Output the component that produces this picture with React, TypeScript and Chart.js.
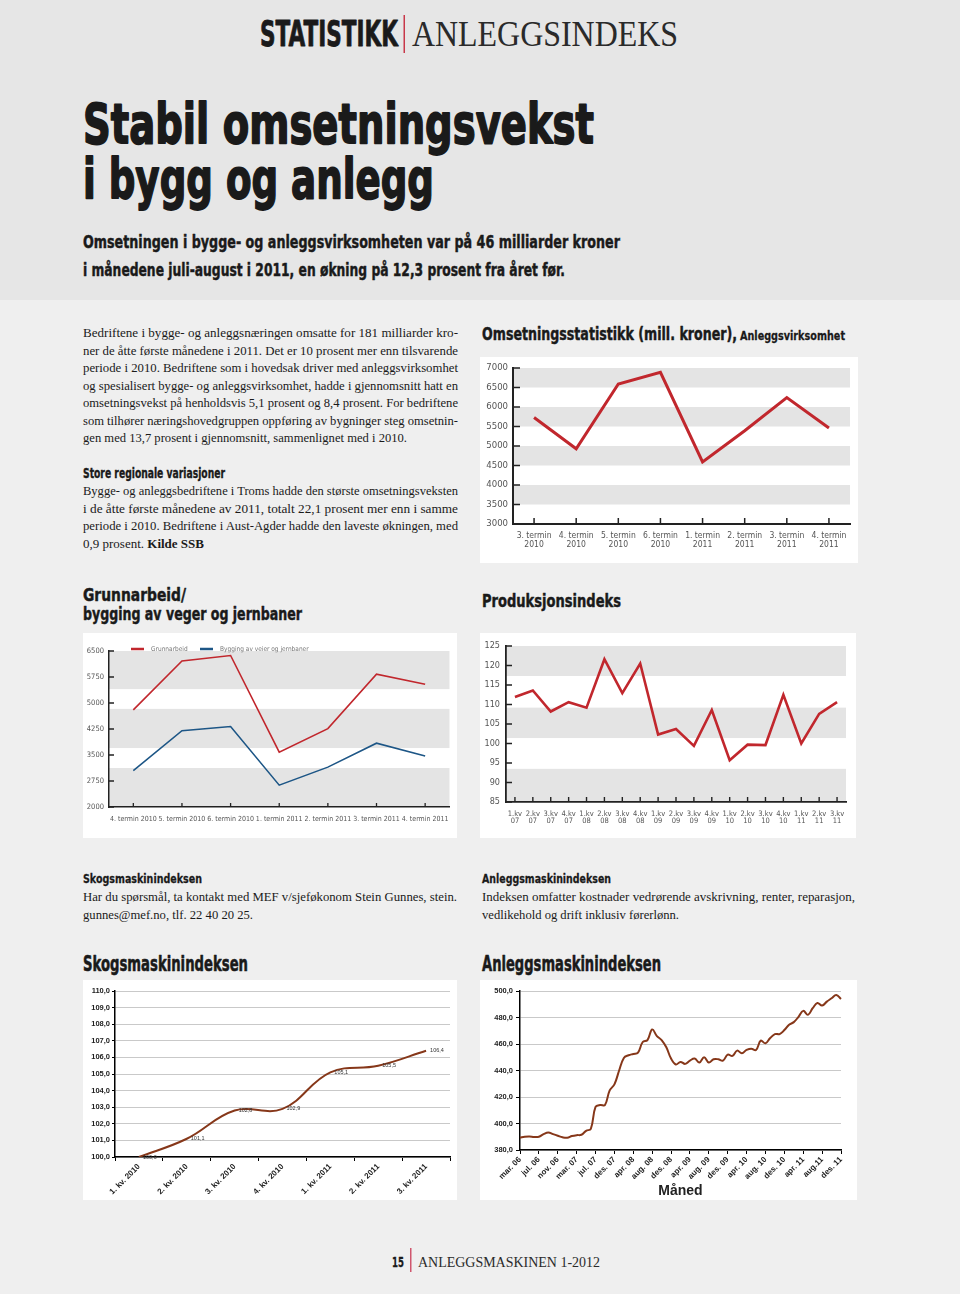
import React, { useEffect, useRef } from 'react';
import { Chart, registerables } from 'chart.js';

Chart.register(...registerables);

// ---------- DATA ----------
// Omsetningsstatistikk (mill. kroner), Anleggsvirksomhet
const omsLabels = [
  ['3. termin', '2010'], ['4. termin', '2010'], ['5. termin', '2010'], ['6. termin', '2010'],
  ['1. termin', '2011'], ['2. termin', '2011'], ['3. termin', '2011'], ['4. termin', '2011'],
];
const omsValues = [5730, 4930, 6590, 6890, 4590, 5390, 6240, 5460];
const omsBands = [[6500, 7000], [5500, 6000], [4500, 5000], [3500, 4000]];

// Grunnarbeid / bygging av veger og jernbaner
const grunnLabels = ['4. termin 2010', '5. termin 2010', '6. termin 2010', '1. termin 2011', '2. termin 2011', '3. termin 2011', '4. termin 2011'];
const grunnarbeidValues = [4800, 6210, 6370, 3580, 4260, 5830, 5540];
const veierValues = [3050, 4200, 4320, 2630, 3150, 3840, 3470];
const grunnBands = [[5400, 6500], [3700, 4830], [2000, 3125]];

// Produksjonsindeks
const prodLabels = [
  ['1.kv', '07'], ['2.kv', '07'], ['3.kv', '07'], ['4.kv', '07'],
  ['1.kv', '08'], ['2.kv', '08'], ['3.kv', '08'], ['4.kv', '08'],
  ['1.kv', '09'], ['2.kv', '09'], ['3.kv', '09'], ['4.kv', '09'],
  ['1.kv', '10'], ['2.kv', '10'], ['3.kv', '10'], ['4.kv', '10'],
  ['1.kv', '11'], ['2.kv', '11'], ['3.kv', '11'],
];
const prodValues = [111.9, 113.6, 108.2, 110.6, 109.2, 121.6, 112.9, 120.5, 102.3, 103.7, 99.4, 108.6, 95.7, 99.7, 99.6, 112.5, 100.0, 107.6, 110.6];
const prodBands = [[117.3, 125], [101.4, 109.2], [85, 93.5]];

// Skogsmaskinindeksen
const skogLabels = ['1. kv. 2010', '2. kv. 2010', '3. kv. 2010', '4. kv. 2010', '1. kv. 2011', '2. kv. 2011', '3. kv. 2011'];
const skogValues = [100.0, 101.1, 102.8, 102.9, 105.1, 105.5, 106.4];

// Anleggsmaskinindeksen (månedlig)
const anleggLabels = [
  'mar. 06', 'apr. 06', 'mai. 06', 'jun. 06', 'jul. 06', 'aug. 06', 'sep. 06', 'okt. 06', 'nov. 06', 'des. 06',
  'jan. 07', 'feb. 07', 'mar. 07', 'apr. 07', 'mai. 07', 'jun. 07', 'jul. 07', 'aug. 07', 'sep. 07', 'okt. 07', 'des. 07',
  'jan. 08', 'feb. 08', 'mar. 08', 'apr. 08', 'mai. 08', 'jun. 08', 'jul. 08', 'aug. 08', 'sep. 08', 'okt. 08', 'nov. 08', 'des. 08',
  'jan. 09', 'feb. 09', 'mar. 09', 'apr. 09', 'mai. 09', 'jun. 09', 'jul. 09', 'aug. 09', 'sep. 09', 'okt. 09', 'nov. 09', 'des. 09',
  'jan. 10', 'feb. 10', 'mar. 10', 'apr. 10', 'mai. 10', 'jun. 10', 'jul. 10', 'aug. 10', 'sep. 10', 'okt. 10', 'nov. 10', 'des. 10',
  'jan. 11', 'feb. 11', 'mar. 11', 'apr. 11', 'mai. 11', 'jun. 11', 'jul. 11', 'aug.11', 'sep. 11', 'okt. 11', 'nov. 11', 'des. 11',
];
const anleggValues = [
  389.3, 390.0, 390.2, 389.8, 390.0, 392.0, 393.2, 392.0, 390.8, 389.6,
  389.2, 390.5, 391.2, 391.5, 394.5, 396.0, 412.5, 414.0, 414.0, 425.0, 429.5,
  440.0, 449.5, 451.5, 452.5, 453.5, 461.5, 463.0, 471.0, 466.0, 463.0, 457.5, 449.0,
  444.5, 446.5, 445.0, 447.5, 449.0, 446.0, 450.0, 446.0, 448.5, 448.5, 447.5, 452.0,
  451.0, 455.0, 453.0, 455.5, 456.5, 455.5, 462.5, 460.5, 464.5, 467.5, 467.5, 470.5,
  474.5, 476.5, 480.5, 485.0, 482.0, 487.0, 491.0, 489.0, 492.0, 494.5, 497.0, 494.0,
];

// ---------- STYLE ----------
const RED = '#c1272d';
const BLUE = '#1d5686';
const BROWN = '#863719';
const BAND = '#e4e4e4';
const HEAVY = "'DejaVu Sans', 'Liberation Sans', sans-serif";
const SERIF = "'Liberation Serif', 'Times New Roman', serif";
const NARROW = "'Liberation Sans Narrow', 'DejaVu Sans Condensed', 'Open Sans', sans-serif";
const ARIAL = "'Liberation Sans', Arial, sans-serif";
const INK = '#1a1a1a';

const fmtComma = (v: number) => v.toFixed(1).replace('.', ',');
const plain = (v: any) => String(v);

// ---------- PLUGINS ----------
const bandsPlugin = {
  id: 'bands',
  beforeDraw(chart: any, _a: any, opts: any) {
    if (!opts || !opts.ranges) return;
    const { ctx, chartArea, scales } = chart;
    const y = scales.y;
    ctx.save();
    ctx.fillStyle = opts.color;
    for (const [a, b] of opts.ranges) {
      const y1 = y.getPixelForValue(b);
      const y2 = y.getPixelForValue(a);
      ctx.fillRect(chartArea.left, y1, chartArea.right - chartArea.left, y2 - y1);
    }
    ctx.restore();
  },
};

const innerTicksPlugin = {
  id: 'innerTicks',
  afterDraw(chart: any, _a: any, opts: any) {
    if (!opts || !opts.x) return;
    const { ctx, chartArea, scales } = chart;
    ctx.save();
    ctx.strokeStyle = opts.color;
    ctx.lineWidth = opts.width;
    ctx.beginPath();
    scales.y.ticks.forEach((_t: any, i: number) => {
      const py = scales.y.getPixelForTick(i);
      ctx.moveTo(chartArea.left, py);
      ctx.lineTo(chartArea.left + opts.y, py);
    });
    scales.x.ticks.forEach((_t: any, i: number) => {
      const px = scales.x.getPixelForTick(i);
      ctx.moveTo(px, chartArea.bottom);
      ctx.lineTo(px, chartArea.bottom - opts.x);
    });
    ctx.stroke();
    ctx.restore();
  },
};

const lineLegendPlugin = {
  id: 'lineLegend',
  afterDraw(chart: any, _a: any, opts: any) {
    if (!opts || !opts.font) return;
    const { ctx, chartArea } = chart;
    ctx.save();
    ctx.font = opts.font;
    ctx.textBaseline = 'middle';
    let x = chartArea.left + opts.offsetX;
    const y = chartArea.top + opts.offsetY;
    chart.data.datasets.forEach((ds: any) => {
      ctx.strokeStyle = ds.borderColor;
      ctx.lineWidth = 2.5;
      ctx.beginPath();
      ctx.moveTo(x, y);
      ctx.lineTo(x + opts.swatch, y);
      ctx.stroke();
      ctx.fillStyle = opts.color;
      ctx.fillText(ds.label, x + opts.swatch + opts.gap, y);
      x += opts.step;
    });
    ctx.restore();
  },
};

const valueLabelsPlugin = {
  id: 'valueLabels',
  afterDatasetsDraw(chart: any, _a: any, opts: any) {
    if (!opts || !opts.font) return;
    const { ctx } = chart;
    const meta = chart.getDatasetMeta(0);
    const data = chart.data.datasets[0].data;
    ctx.save();
    ctx.font = opts.font;
    ctx.fillStyle = opts.color;
    ctx.textBaseline = 'middle';
    meta.data.forEach((pt: any, i: number) => {
      ctx.fillText(fmtComma(data[i]), pt.x + opts.dx, pt.y + opts.dy);
    });
    ctx.restore();
  },
};

const baseOptions = (pad: any) => ({
  responsive: false,
  animation: false,
  devicePixelRatio: 1,
  layout: { padding: pad },
  events: [],
  elements: { point: { radius: 0 }, line: { borderJoinStyle: 'miter' } },
});

const noGrid = { display: false, drawTicks: false, tickLength: 0 };

// ---------- CHART CONFIGS ----------
function omsConfig() {
  const tickFont = { family: NARROW, size: 9.5 };
  return {
    type: 'line',
    data: {
      labels: omsLabels,
      datasets: [{ data: omsValues, borderColor: RED, borderWidth: 3, tension: 0, pointRadius: 0 }],
    },
    options: {
      ...baseOptions({ left: 0, top: 11, right: 8, bottom: 0 }),
      plugins: {
        legend: { display: false },
        tooltip: { enabled: false },
        bands: { ranges: omsBands, color: BAND },
        innerTicks: { x: 6, y: 7, width: 1.5, color: '#222' },
      },
      scales: {
        x: {
          offset: true,
          grid: noGrid,
          border: { display: true, color: '#222', width: 2 },
          ticks: { font: { ...tickFont, size: 8.5, lineHeight: 1.1 }, color: '#555', padding: 7, maxRotation: 0, autoSkip: false },
          afterFit: (s: any) => { s.height = 39; },
        },
        y: {
          min: 3000, max: 7000,
          grid: noGrid,
          border: { display: true, color: '#222', width: 2 },
          ticks: { stepSize: 500, font: tickFont, color: '#555', padding: 5, callback: plain },
          afterFit: (s: any) => { s.width = 33; },
        },
      },
    },
    plugins: [bandsPlugin, innerTicksPlugin],
  };
}

function grunnConfig() {
  const tickFont = { family: NARROW, size: 7.5 };
  return {
    type: 'line',
    data: {
      labels: grunnLabels,
      datasets: [
        { label: 'Grunnarbeid', data: grunnarbeidValues, borderColor: RED, borderWidth: 1.6, tension: 0, pointRadius: 0 },
        { label: 'Bygging av veier og jernbaner', data: veierValues, borderColor: BLUE, borderWidth: 1.6, tension: 0, pointRadius: 0 },
      ],
    },
    options: {
      ...baseOptions({ left: 0, top: 18, right: 7, bottom: 0 }),
      plugins: {
        legend: { display: false },
        tooltip: { enabled: false },
        bands: { ranges: grunnBands, color: BAND },
        innerTicks: { x: 4, y: 5, width: 1.3, color: '#222' },
        lineLegend: { font: `6.5px ${NARROW}`, color: '#777', offsetX: 22, offsetY: -2, swatch: 13, gap: 7, step: 69 },
      },
      scales: {
        x: {
          offset: true,
          grid: noGrid,
          border: { display: true, color: '#222', width: 1.5 },
          ticks: { font: { ...tickFont, size: 7 }, color: '#555', padding: 8, maxRotation: 0, autoSkip: false },
          afterFit: (s: any) => { s.height = 31; },
        },
        y: {
          min: 2000, max: 6500,
          grid: noGrid,
          border: { display: true, color: '#222', width: 1.5 },
          ticks: { stepSize: 750, font: tickFont, color: '#555', padding: 5, callback: plain },
          afterFit: (s: any) => { s.width = 26; },
        },
      },
    },
    plugins: [bandsPlugin, innerTicksPlugin, lineLegendPlugin],
  };
}

function prodConfig() {
  const tickFont = { family: NARROW, size: 9 };
  return {
    type: 'line',
    data: {
      labels: prodLabels,
      datasets: [{ data: prodValues, borderColor: RED, borderWidth: 2.6, tension: 0, pointRadius: 0 }],
    },
    options: {
      ...baseOptions({ left: 0, top: 13, right: 10, bottom: 0 }),
      plugins: {
        legend: { display: false },
        tooltip: { enabled: false },
        bands: { ranges: prodBands, color: BAND },
        innerTicks: { x: 5, y: 6, width: 1.4, color: '#222' },
      },
      scales: {
        x: {
          offset: true,
          grid: noGrid,
          border: { display: true, color: '#222', width: 1.8 },
          ticks: { font: { ...tickFont, size: 7.5, lineHeight: 1.0 }, color: '#555', padding: 8, maxRotation: 0, autoSkip: false },
          afterFit: (s: any) => { s.height = 36; },
        },
        y: {
          min: 85, max: 125,
          grid: noGrid,
          border: { display: true, color: '#222', width: 1.8 },
          ticks: { stepSize: 5, font: tickFont, color: '#555', padding: 6, callback: plain },
          afterFit: (s: any) => { s.width = 26; },
        },
      },
    },
    plugins: [bandsPlugin, innerTicksPlugin],
  };
}

function skogConfig() {
  const tickFont = { family: ARIAL, size: 7.5, weight: 'bold' };
  return {
    type: 'line',
    data: {
      labels: skogLabels,
      datasets: [{ data: skogValues, borderColor: BROWN, borderWidth: 2, tension: 0.4, pointRadius: 0 }],
    },
    options: {
      ...baseOptions({ left: 0, top: 11, right: 7, bottom: 0 }),
      plugins: {
        legend: { display: false },
        tooltip: { enabled: false },
        valueLabels: { font: `5.5px ${ARIAL}`, color: '#333', dx: 4, dy: 0 },
      },
      scales: {
        x: {
          offset: true,
          grid: { display: true, drawOnChartArea: false, offset: true, tickLength: 4, tickColor: '#000', color: '#000' },
          border: { display: true, color: '#000', width: 1.5 },
          ticks: { font: { ...tickFont, size: 8 }, color: '#222', padding: 1, maxRotation: 45, minRotation: 45, autoSkip: false },
          afterFit: (s: any) => { s.height = 43; },
        },
        y: {
          min: 100, max: 110,
          grid: { color: '#c9c9c9', lineWidth: 1, tickColor: '#000', tickLength: 3 },
          border: { display: true, color: '#000', width: 1.5 },
          ticks: { stepSize: 1, font: tickFont, color: '#222', padding: 2, callback: (v: any) => fmtComma(Number(v)) },
          afterFit: (s: any) => { s.width = 32; },
        },
      },
    },
    plugins: [valueLabelsPlugin],
  };
}

function anleggConfig() {
  const tickFont = { family: ARIAL, size: 8, weight: 'bold' };
  return {
    type: 'line',
    data: {
      labels: anleggLabels,
      datasets: [{ data: anleggValues, borderColor: BROWN, borderWidth: 2, tension: 0.4, pointRadius: 0 }],
    },
    options: {
      ...baseOptions({ left: 0, top: 11, right: 16, bottom: 0 }),
      plugins: { legend: { display: false }, tooltip: { enabled: false } },
      scales: {
        x: {
          offset: false,
          afterBuildTicks: (s: any) => { s.ticks = s.ticks.filter((_t: any, i: number) => i % 4 === 0); },
          grid: { display: true, drawOnChartArea: false, tickLength: 4, tickColor: '#000', color: '#000' },
          border: { display: true, color: '#000', width: 1.5 },
          ticks: { font: tickFont, color: '#222', padding: 1, maxRotation: 45, minRotation: 45, autoSkip: false },
          title: { display: true, text: 'Måned', color: '#222', font: { family: ARIAL, size: 14, weight: 'bold' }, padding: { top: 0, bottom: 0 } },
          afterFit: (s: any) => { s.height = 50; },
        },
        y: {
          min: 380, max: 500,
          grid: { color: '#c9c9c9', lineWidth: 1, tickColor: '#000', tickLength: 4 },
          border: { display: true, color: '#000', width: 1.5 },
          ticks: { stepSize: 20, font: { ...tickFont, size: 7.5 }, color: '#222', padding: 3, callback: (v: any) => fmtComma(Number(v)) },
          afterFit: (s: any) => { s.width = 40; },
        },
      },
    },
  };
}

// ---------- COMPONENTS ----------
function ChartBox({ left, top, width, height, make }: any) {
  const ref = useRef<HTMLCanvasElement>(null);
  useEffect(() => {
    const chart = new Chart(ref.current as HTMLCanvasElement, make() as any);
    return () => chart.destroy();
  }, []);
  return (
    <div style={{ position: 'absolute', left, top, width, height, background: '#ffffff' }}>
      <canvas ref={ref} width={width} height={height} style={{ display: 'block', width, height }} />
    </div>
  );
}

function T({ x, y, size, family, weight, w, adj = 'spacingAndGlyphs', fill = INK, stroke, children }: any) {
  return (
    <text
      x={x}
      y={y}
      fontSize={size}
      fontFamily={family}
      fontWeight={weight}
      textLength={w}
      lengthAdjust={w ? adj : undefined}
      fill={fill}
      stroke={stroke ? fill : undefined}
      strokeWidth={stroke}
      strokeLinejoin="round"
    >
      {children}
    </text>
  );
}

const para1 = [
  'Bedriftene i bygge- og anleggsnæringen omsatte for 181 milliarder kro-',
  'ner de åtte første månedene i 2011. Det er 10 prosent mer enn tilsvarende',
  'periode i 2010. Bedriftene som i hovedsak driver med anleggsvirksomhet',
  'og spesialisert bygge- og anleggsvirksomhet, hadde i gjennomsnitt hatt en',
  'omsetningsvekst på henholdsvis 5,1 prosent og 8,4 prosent. For bedriftene',
  'som tilhører næringshovedgruppen oppføring av bygninger steg omsetnin-',
  'gen med 13,7 prosent i gjennomsnitt, sammenlignet med i 2010.',
];
const para2 = [
  'Bygge- og anleggsbedriftene i Troms hadde den største omsetningsveksten',
  'i de åtte første månedene av 2011, totalt 22,1 prosent mer enn i samme',
  'periode i 2010. Bedriftene i Aust-Agder hadde den laveste økningen, med',
];

function TextLayer() {
  const body = 12.8;
  return (
    <svg width={960} height={1294} style={{ position: 'absolute', left: 0, top: 0 }}>
      {/* Header */}
      <T x={260} y={46} size={35} family={HEAVY} weight={700} w={138} stroke={0.9}>STATISTIKK</T>
      <rect x={403.5} y={15} width={1.5} height={38} fill="#c8384a" />
      <T x={412} y={46} size={36} family={SERIF} weight={400} w={266} fill="#2a2a2a">ANLEGGSINDEKS</T>

      <T x={83} y={143} size={55} family={HEAVY} weight={700} w={511} stroke={1.8}>Stabil omsetningsvekst</T>
      <T x={83} y={198} size={55} family={HEAVY} weight={700} w={351} stroke={1.8}>i bygg og anlegg</T>

      <T x={83} y={248} size={18} family={HEAVY} weight={700} w={537} stroke={0.5}>Omsetningen i bygge- og anleggsvirksomheten var på 46 milliarder kroner</T>
      <T x={83} y={276} size={18} family={HEAVY} weight={700} w={482} stroke={0.5}>i månedene juli-august i 2011, en økning på 12,3 prosent fra året før.</T>

      {/* Body text */}
      {para1.map((line, i) => (
        <T key={'p1' + i} x={83} y={337 + i * 17.5} size={body} family={SERIF} w={i === para1.length - 1 ? 324 : 375}>{line}</T>
      ))}
      <T x={83} y={478} size={14} family={HEAVY} weight={700} w={142} stroke={0.4}>Store regionale variasjoner</T>
      {para2.map((line, i) => (
        <T key={'p2' + i} x={83} y={495 + i * 17.5} size={body} family={SERIF} w={375}>{line}</T>
      ))}
      <T x={83} y={547.5} size={body} family={SERIF} w={121}>
        0,9 prosent.  <tspan fontWeight={700}>Kilde SSB</tspan>
      </T>

      {/* Chart titles */}
      <T x={482} y={340} size={18} family={HEAVY} weight={700} w={255} stroke={0.5}>Omsetningsstatistikk (mill. kroner),</T>
      <T x={740} y={340} size={13} family={HEAVY} weight={700} w={105} stroke={0.3}>Anleggsvirksomhet</T>

      <T x={83} y={601} size={18} family={HEAVY} weight={700} w={103} stroke={0.5}>Grunnarbeid/</T>
      <T x={83} y={620} size={18} family={HEAVY} weight={700} w={219} stroke={0.5}>bygging av veger og jernbaner</T>
      <T x={482} y={607} size={18} family={HEAVY} weight={700} w={139} stroke={0.5}>Produksjonsindeks</T>

      {/* Lower text blocks */}
      <T x={83} y={883} size={13} family={HEAVY} weight={700} w={119} stroke={0.3}>Skogsmaskinindeksen</T>
      <T x={83} y={901} size={body} family={SERIF} w={374}>Har du spørsmål, ta kontakt med MEF v/sjeføkonom Stein Gunnes, stein.</T>
      <T x={83} y={918.5} size={body} family={SERIF} w={170}>gunnes@mef.no, tlf. 22 40 20 25.</T>

      <T x={482} y={883} size={13} family={HEAVY} weight={700} w={129} stroke={0.3}>Anleggsmaskinindeksen</T>
      <T x={482} y={901} size={body} family={SERIF} w={373}>Indeksen omfatter kostnader vedrørende avskrivning, renter, reparasjon,</T>
      <T x={482} y={918.5} size={body} family={SERIF} w={197}>vedlikehold og drift inklusiv førerlønn.</T>

      <T x={83} y={971} size={21} family={HEAVY} weight={700} w={165} stroke={0.6}>Skogsmaskinindeksen</T>
      <T x={482} y={971} size={21} family={HEAVY} weight={700} w={179} stroke={0.6}>Anleggsmaskinindeksen</T>

      {/* Footer */}
      <T x={392} y={1267} size={14} family={HEAVY} weight={700} w={12} stroke={0.3}>15</T>
      <rect x={410} y={1248} width={1.5} height={24} fill="#d0566e" />
      <T x={418} y={1267} size={15} family={SERIF} w={182} fill="#2a2a2a">ANLEGGSMASKINEN 1-2012</T>
    </svg>
  );
}

export default function App() {
  return (
    <div style={{ position: 'absolute', left: 0, top: 0, width: 960, height: 1294, background: '#efefef', overflow: 'hidden' }}>
      <div style={{ position: 'absolute', left: 0, top: 0, width: 960, height: 300, background: '#e6e6e6' }} />
      <TextLayer />
      <ChartBox left={480} top={357} width={378} height={206} make={omsConfig} />
      <ChartBox left={83} top={633} width={374} height={205} make={grunnConfig} />
      <ChartBox left={480} top={633} width={376} height={205} make={prodConfig} />
      <ChartBox left={83} top={980} width={374} height={220} make={skogConfig} />
      <ChartBox left={480} top={980} width={377} height={220} make={anleggConfig} />
    </div>
  );
}
